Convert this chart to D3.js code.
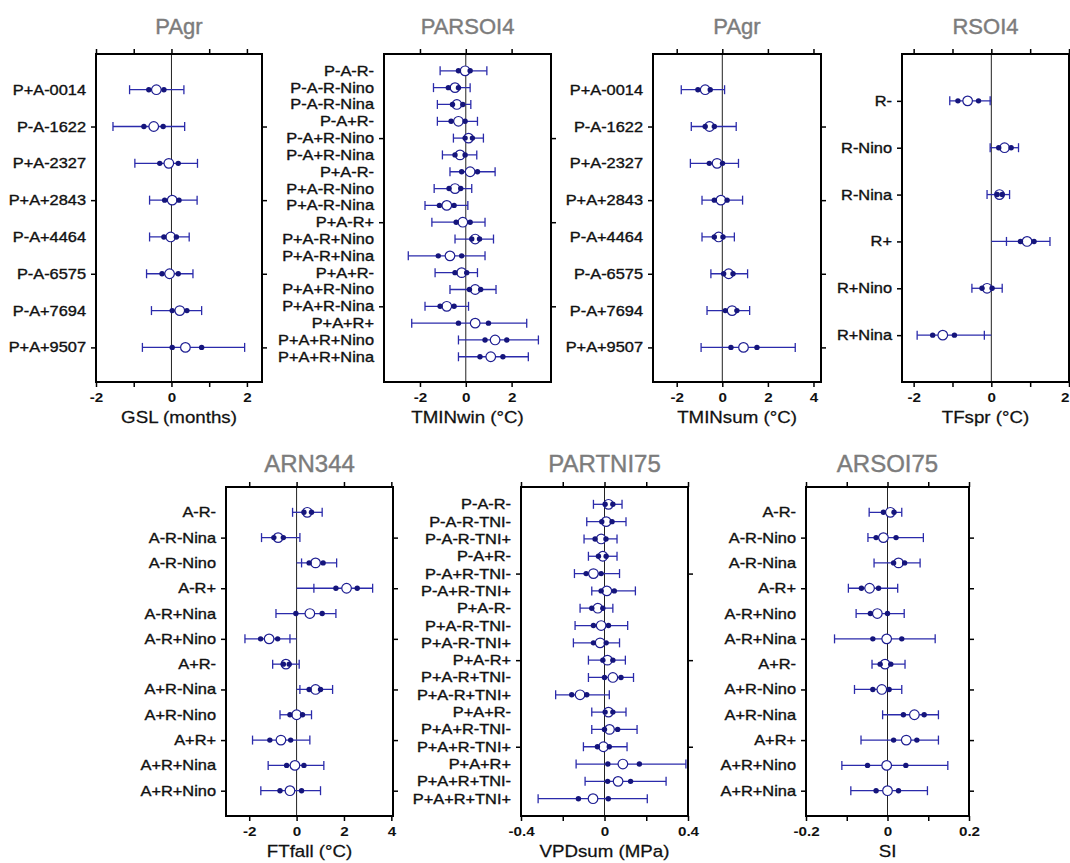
<!DOCTYPE html>
<html>
<head>
<meta charset="utf-8">
<script src="https://cdn.jsdelivr.net/npm/d3@7"></script>
<style>
  body { margin: 0; background: #fff; }
  svg { display: block; }
</style>
</head>
<body>
<div id="chart"></div>
<script>
// ---- data ----
// lo / hi = outer whisker ends, loIn / hiIn = filled dots, mean = open circle

const gslLabels = ["P+A-0014", "P-A-1622", "P+A-2327", "P+A+2843", "P-A+4464", "P-A-6575", "P-A+7694", "P+A+9507"];
const gslLo   = [-1.11, -1.55, -0.97, -0.58, -0.58, -0.66, -0.53, -0.77];
const gslLoIn = [-0.60, -0.73, -0.31, -0.18, -0.20, -0.25, 0.02, 0.02];
const gslMean = [-0.40, -0.47, -0.07, 0.02, -0.02, -0.05, 0.22, 0.37];
const gslHiIn = [-0.20, -0.22, 0.18, 0.20, 0.13, 0.18, 0.41, 0.80];
const gslHi   = [0.33, 0.35, 0.69, 0.68, 0.47, 0.57, 0.80, 1.94];
const gslTicks = [-2, -1, 0, 1, 2];
const gslTickLabels = [-2, 0, 2];

const winLabels = ["P-A-R-", "P-A-R-Nino", "P-A-R-Nina", "P-A+R-", "P-A+R-Nino", "P-A+R-Nina",
  "P+A-R-", "P+A-R-Nino", "P+A-R-Nina", "P+A-R+", "P+A-R+Nino", "P+A-R+Nina",
  "P+A+R-", "P+A+R-Nino", "P+A+R-Nina", "P+A+R+", "P+A+R+Nino", "P+A+R+Nina"];
const winLo   = [-1.12, -1.41, -1.24, -1.24, -0.54, -1.02, -0.69, -1.38, -1.78, -1.48, -0.47, -2.51, -1.34, -0.69, -1.78, -2.36, -0.32, -0.32];
const winLoIn = [-0.32, -0.76, -0.58, -0.64, -0.03, -0.47, -0.18, -0.73, -1.15, -0.42, 0.26, -1.20, -0.47, 0.16, -1.12, -0.32, 0.84, 0.62];
const winMean = [-0.03, -0.47, -0.39, -0.32, 0.12, -0.25, 0.19, -0.47, -0.83, -0.13, 0.41, -0.69, -0.18, 0.41, -0.83, 0.41, 1.28, 1.09];
const winHiIn = [0.19, -0.32, -0.13, -0.03, 0.29, -0.03, 0.51, -0.22, -0.51, 0.19, 0.60, -0.18, 0.04, 0.65, -0.51, 0.99, 1.79, 1.62];
const winHi   = [0.92, 0.19, 0.22, 0.51, 0.77, 0.48, 1.28, 0.26, 0.09, 0.84, 1.21, 0.84, 0.51, 1.32, 0.12, 2.66, 3.17, 2.73];
const winTicks = [-2, 0, 2];
const winTickLabels = [-2, 0, 2];

const sumLabels = ["P+A-0014", "P-A-1622", "P+A-2327", "P+A+2843", "P-A+4464", "P-A-6575", "P-A+7694", "P+A+9507"];
const sumLo   = [-1.80, -1.36, -1.40, -0.89, -0.89, -0.50, -0.67, -0.93];
const sumLoIn = [-1.07, -0.75, -0.57, -0.35, -0.35, 0.06, 0.13, 0.38];
const sumMean = [-0.75, -0.56, -0.23, -0.06, -0.16, 0.28, 0.43, 0.93];
const sumHiIn = [-0.53, -0.35, 0.01, 0.21, 0.03, 0.47, 0.64, 1.52];
const sumHi   = [0.10, 0.61, 0.71, 0.89, 0.53, 1.11, 1.20, 3.20];
const sumTicks = [-2, 0, 2, 4];
const sumTickLabels = [-2, 0, 2, 4];

const sprLabels = ["R-", "R-Nino", "R-Nina", "R+", "R+Nino", "R+Nina"];
const sprLo   = [-1.07, -0.03, -0.11, 0.39, -0.50, -1.91];
const sprLoIn = [-0.86, 0.19, 0.15, 0.75, -0.24, -1.51];
const sprMean = [-0.61, 0.34, 0.21, 0.92, -0.11, -1.25];
const sprHiIn = [-0.33, 0.51, 0.28, 1.10, 0.02, -0.95];
const sprHi   = [-0.03, 0.70, 0.47, 1.51, 0.28, -0.18];
const sprTicks = [-2, -1, 0, 1, 2];
const sprTickLabels = [-2, 0, 2];

const fallLabels = ["A-R-", "A-R-Nina", "A-R-Nino", "A-R+", "A-R+Nina", "A-R+Nino",
  "A+R-", "A+R-Nina", "A+R-Nino", "A+R+", "A+R+Nina", "A+R+Nino"];
const fallLo   = [-0.17, -1.48, 0.21, 0.73, -0.87, -2.18, -1.01, 0.14, -0.70, -1.86, -1.20, -1.51];
const fallLoIn = [0.31, -0.96, 0.53, 1.66, -0.03, -1.52, -0.56, 0.53, -0.28, -1.13, -0.42, -0.70];
const fallMean = [0.45, -0.78, 0.80, 2.11, 0.56, -1.16, -0.45, 0.80, 0.00, -0.66, -0.07, -0.28];
const fallHiIn = [0.63, -0.56, 1.12, 2.56, 1.08, -0.80, -0.31, 1.01, 0.25, -0.25, 0.31, 0.21];
const fallHi   = [1.08, 0.14, 1.69, 3.21, 1.66, -0.28, 0.11, 1.52, 0.63, 0.56, 1.15, 1.01];
const fallTicks = [-2, 0, 2, 4];
const fallTickLabels = [-2, 0, 2, 4];

const vpdLabels = ["P-A-R-", "P-A-R-TNI-", "P-A-R-TNI+", "P-A+R-", "P-A+R-TNI-", "P-A+R-TNI+",
  "P+A-R-", "P+A-R-TNI-", "P+A-R-TNI+", "P+A-R+", "P+A-R+TNI-", "P+A-R+TNI+",
  "P+A+R-", "P+A+R-TNI-", "P+A+R-TNI+", "P+A+R+", "P+A+R+TNI-", "P+A+R+TNI+"];
const vpdLo   = [-0.053, -0.085, -0.098, -0.077, -0.144, -0.061, -0.117, -0.141, -0.149, -0.077, -0.077, -0.234, -0.061, -0.061, -0.101, -0.136, -0.093, -0.318];
const vpdLoIn = [0.003, -0.013, -0.045, -0.029, -0.088, -0.016, -0.061, -0.053, -0.053, -0.008, 0.000, -0.157, 0.003, 0.000, -0.034, 0.016, 0.015, -0.125];
const vpdMean = [0.019, 0.008, -0.016, -0.008, -0.053, 0.011, -0.032, -0.016, -0.021, 0.014, 0.040, -0.117, 0.019, 0.024, -0.005, 0.088, 0.065, -0.055];
const vpdHiIn = [0.040, 0.036, 0.007, 0.008, -0.016, 0.047, -0.008, 0.019, 0.008, 0.040, 0.079, -0.085, 0.040, 0.063, 0.023, 0.167, 0.125, 0.018];
const vpdHi   = [0.084, 0.103, 0.060, 0.060, 0.072, 0.148, 0.040, 0.111, 0.072, 0.100, 0.139, 0.023, 0.103, 0.156, 0.108, 0.390, 0.295, 0.205];
const vpdTicks = [-0.4, -0.2, 0, 0.2, 0.4];
const vpdTickLabels = [-0.4, 0, 0.4];

const siLabels = ["A-R-", "A-R-Nino", "A-R-Nina", "A-R+", "A-R+Nino", "A-R+Nina",
  "A+R-", "A+R-Nino", "A+R-Nina", "A+R+", "A+R+Nino", "A+R+Nina"];
const siLo   = [-0.045, -0.048, -0.033, -0.096, -0.077, -0.130, -0.038, -0.081, -0.012, -0.065, -0.112, -0.090];
const siLoIn = [-0.010, -0.028, 0.015, -0.064, -0.042, -0.036, -0.018, -0.036, 0.039, 0.015, -0.049, -0.028];
const siMean = [0.007, -0.010, 0.027, -0.044, -0.025, -0.002, -0.006, -0.014, 0.066, 0.046, -0.002, 0.000];
const siHiIn = [0.016, 0.021, 0.042, -0.022, 0.000, 0.035, 0.008, 0.004, 0.090, 0.072, 0.045, 0.027];
const siHi   = [0.035, 0.088, 0.080, 0.025, 0.041, 0.117, 0.043, 0.035, 0.125, 0.125, 0.148, 0.098];
const siTicks = [-0.2, -0.1, 0, 0.1, 0.2];
const siTickLabels = [-0.2, 0, 0.2];

// ---- layout ----
const FONT = '"Liberation Sans", Arial, Helvetica, sans-serif';
const SX = 1.17;            // source figure text is a bit wider than tall
const LINE = "#2b2bab", DOT = "#15157c", RING = "#1e1e92";
const W = 1070, H = 863;

const top1 = 54, bot1 = 382, top2 = 487, bot2 = 816;

const panels = [
  { title: "PAgr", xTitle: "GSL (months)", labels: gslLabels, lo: gslLo, loIn: gslLoIn, mean: gslMean, hiIn: gslHiIn, hi: gslHi,
    ticks: gslTicks, tickLabels: gslTickLabels, domain: [-2, 2.4], x0: 96, x1: 262, y0: top1, y1: bot1, every: 2, pad: [0.97, 0.94], tSize: 22 },
  { title: "PARSOI4", xTitle: "TMINwin (°C)", labels: winLabels, lo: winLo, loIn: winLoIn, mean: winMean, hiIn: winHiIn, hi: winHi,
    ticks: winTicks, tickLabels: winTickLabels, domain: [-3.57, 3.72], x0: 384, x1: 551, y0: top1, y1: bot1, every: 5, pad: [1.0, 1.5], tSize: 22 },
  { title: "PAgr", xTitle: "TMINsum (°C)", labels: sumLabels, lo: sumLo, loIn: sumLoIn, mean: sumMean, hiIn: sumHiIn, hi: sumHi,
    ticks: sumTicks, tickLabels: sumTickLabels, domain: [-3.04, 4.33], x0: 653, x1: 821, y0: top1, y1: bot1, every: 2, pad: [0.97, 0.94], tSize: 22 },
  { title: "RSOI4", xTitle: "TFspr (°C)", labels: sprLabels, lo: sprLo, loIn: sprLoIn, mean: sprMean, hiIn: sprHiIn, hi: sprHi,
    ticks: sprTicks, tickLabels: sprTickLabels, domain: [-2.3, 2.0], x0: 902, x1: 1069, y0: top1, y1: bot1, every: 1, pad: [1, 1], tSize: 22 },
  { title: "ARN344", xTitle: "FTfall (°C)", labels: fallLabels, lo: fallLo, loIn: fallLoIn, mean: fallMean, hiIn: fallHiIn, hi: fallHi,
    ticks: fallTicks, tickLabels: fallTickLabels, domain: [-2.98, 4.07], x0: 226, x1: 393, y0: top2, y1: bot2, every: 2, pad: [1, 1], tSize: 24 },
  { title: "PARTNI75", xTitle: "VPDsum (MPa)", labels: vpdLabels, lo: vpdLo, loIn: vpdLoIn, mean: vpdMean, hiIn: vpdHiIn, hi: vpdHi,
    ticks: vpdTicks, tickLabels: vpdTickLabels, domain: [-0.4, 0.4], x0: 521, x1: 688, y0: top2, y1: bot2, every: 5, pad: [1, 1], tSize: 24 },
  { title: "ARSOI75", xTitle: "SI", labels: siLabels, lo: siLo, loIn: siLoIn, mean: siMean, hiIn: siHiIn, hi: siHi,
    ticks: siTicks, tickLabels: siTickLabels, domain: [-0.2, 0.2], x0: 806, x1: 969, y0: top2, y1: bot2, every: 2, pad: [1, 1], tSize: 24 }
];

const svg = d3.select("#chart").append("svg")
  .attr("width", W)
  .attr("height", H)
  .style("background", "#fff");

panels.forEach(p => {
  const n = p.labels.length;
  const x = d3.scaleLinear().domain(p.domain).range([p.x0, p.x1]);
  const y = d3.scaleLinear().domain([-p.pad[0], n - 1 + p.pad[1]]).range([p.y0, p.y1]);
  const g = svg.append("g");
  const cx = (p.x0 + p.x1) / 2;

  // zero reference line
  g.append("line")
    .attr("x1", x(0)).attr("x2", x(0))
    .attr("y1", p.y0).attr("y2", p.y1)
    .attr("stroke", "#222").attr("stroke-width", 1);

  const fmt = d => p.tickLabels.includes(d) ? String(d) : "";

  const bottom = g.append("g")
    .attr("transform", `translate(0,${p.y1})`)
    .call(d3.axisBottom(x).tickValues(p.ticks).tickSize(5).tickSizeOuter(0).tickPadding(6).tickFormat(fmt));
  bottom.selectAll("text")
    .attr("transform", `scale(${SX},1)`)
    .attr("font-family", FONT).attr("font-size", 13).attr("font-weight", "bold").attr("fill", "#111");
  // keep a label that would run past the right edge inside the picture
  bottom.selectAll("text").each(function (d) {
    const w = this.getComputedTextLength() * SX;
    const over = x(d) + w / 2 - (W - 1);
    if (over > 0) d3.select(this).attr("x", -over / SX);
  });

  g.append("g")
    .attr("transform", `translate(0,${p.y0})`)
    .call(d3.axisTop(x).tickValues(p.ticks).tickSize(5).tickSizeOuter(0).tickFormat(""));

  const rowTicks = d3.range(p.every - 1, n, p.every);
  g.append("g")
    .attr("transform", `translate(${p.x0},0)`)
    .call(d3.axisLeft(y).tickValues(rowTicks).tickSize(5).tickSizeOuter(0).tickFormat(""));
  g.append("g")
    .attr("transform", `translate(${p.x1},0)`)
    .call(d3.axisRight(y).tickValues(rowTicks).tickSize(5).tickSizeOuter(0).tickFormat(""));

  // category labels
  const lab = g.append("g")
    .attr("transform", `translate(${p.x0},0)`)
    .call(d3.axisLeft(y).tickValues(d3.range(n)).tickSize(0).tickPadding(10).tickFormat(i => p.labels[i]));
  lab.selectAll("text")
    .attr("x", -10 / SX)
    .attr("transform", `scale(${SX},1)`)
    .attr("font-family", FONT).attr("font-size", 14).attr("fill", "#111")
    .attr("stroke", "#111").attr("stroke-width", 0.35);

  g.selectAll(".domain").remove();
  g.selectAll(".tick line").attr("stroke", "#000").attr("stroke-width", 1.5);

  // frame
  g.append("rect")
    .attr("x", p.x0).attr("y", p.y0)
    .attr("width", p.x1 - p.x0).attr("height", p.y1 - p.y0)
    .attr("fill", "none").attr("stroke", "#000").attr("stroke-width", 2);

  // error bars (a whisker that misses zero is drawn back to the zero line)
  const rows = g.append("g").selectAll("g")
    .data(d3.range(n))
    .join("g")
    .attr("transform", i => `translate(0,${y(i)})`);

  rows.append("line")
    .attr("x1", i => x(Math.min(p.lo[i], p.lo[i] > 0 ? 0 : p.lo[i])))
    .attr("x2", i => x(Math.max(p.hi[i], p.hi[i] < 0 ? 0 : p.hi[i])))
    .attr("stroke", LINE).attr("stroke-width", 1.3);

  rows.selectAll(".cap")
    .data(i => [p.lo[i], p.hi[i]])
    .join("line")
    .attr("class", "cap")
    .attr("x1", d => x(d)).attr("x2", d => x(d))
    .attr("y1", -4.5).attr("y2", 4.5)
    .attr("stroke", LINE).attr("stroke-width", 1.3);

  rows.append("circle")
    .attr("cx", i => x(p.mean[i]))
    .attr("r", 4.8)
    .attr("fill", "#fff").attr("stroke", RING).attr("stroke-width", 1.2);

  rows.selectAll(".dot")
    .data(i => [p.loIn[i], p.hiIn[i]])
    .join("circle")
    .attr("class", "dot")
    .attr("cx", d => x(d))
    .attr("r", 2.7)
    .attr("fill", DOT);

  // titles
  g.append("text")
    .attr("x", cx).attr("y", p.y0 - (p.tSize === 22 ? 19.7 : 15.5))
    .attr("text-anchor", "middle")
    .attr("font-family", FONT).attr("font-size", p.tSize).attr("fill", "#7c7c7c")
    .attr("stroke", "#7c7c7c").attr("stroke-width", 0.4)
    .text(p.title);

  g.append("g")
    .attr("transform", `translate(${cx},${p.y1 + 40.5}) scale(${SX},1)`)
    .append("text")
    .attr("text-anchor", "middle")
    .attr("font-family", FONT).attr("font-size", 16).attr("fill", "#111")
    .attr("stroke", "#111").attr("stroke-width", 0.25)
    .text(p.xTitle);
});
</script>
</body>
</html>
